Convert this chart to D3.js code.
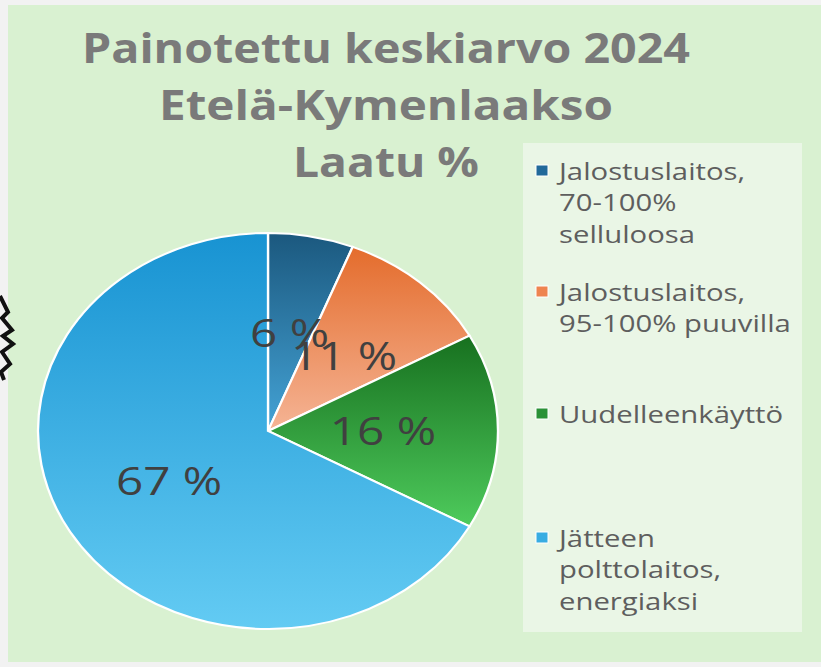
<!DOCTYPE html>
<html lang="fi">
<head>
<meta charset="UTF-8">
<title>Painotettu keskiarvo 2024</title>
<script src="https://cdn.jsdelivr.net/npm/d3@7"></script>
<style>
  html, body { margin: 0; padding: 0; background: #f2f2f2; }
  svg { display: block; }
</style>
</head>
<body>
<div id="chart"></div>
<script>
// data
const categories = [
  "Jalostuslaitos, 70-100% selluloosa",
  "Jalostuslaitos, 95-100% puuvilla",
  "Uudelleenkäyttö",
  "Jätteen polttolaitos, energiaksi"
];
const legendLines = [
  ["Jalostuslaitos,", "70-100%", "selluloosa"],
  ["Jalostuslaitos,", "95-100% puuvilla"],
  ["Uudelleenkäyttö"],
  ["Jätteen", "polttolaitos,", "energiaksi"]
];
const values = [6, 11, 16, 67];
const titleLines = ["Painotettu keskiarvo 2024", "Etelä-Kymenlaakso", "Laatu %"];

// colours: [top, bottom] of each slice gradient, and the legend key colour
const gradStops = [
  ["#1b587e", "#44a3d6"],
  ["#e46c2c", "#f5b495"],
  ["#17701f", "#4ecb5c"],
  ["#1893d2", "#63cbf3"]
];
const keyColors = ["#21699a", "#ee8450", "#2a9137", "#38ace2"];

const W = 821, H = 667;
const svg = d3.select("#chart").append("svg")
  .attr("width", W).attr("height", H);

const defs = svg.append("defs");
gradStops.forEach((g, i) => {
  const lg = defs.append("linearGradient")
    .attr("id", "grad" + i)
    .attr("x1", 0).attr("y1", 0).attr("x2", 0).attr("y2", 1);
  lg.append("stop").attr("offset", "0%").attr("stop-color", g[0]);
  lg.append("stop").attr("offset", "100%").attr("stop-color", g[1]);
});

// chart area
svg.append("rect")
  .attr("x", 8).attr("y", 5)
  .attr("width", W - 8).attr("height", 657)
  .attr("fill", "#d9f1d1");

// bit of a drawing sticking in from the left edge
svg.append("path")
  .attr("d", "M0,296 L8,312 L2,318 L12,330 L3,336 L13,344 L2,352 L10,364 L1,372 L4,380")
  .attr("fill", "none")
  .attr("stroke", "#111")
  .attr("stroke-width", 4)
  .attr("stroke-linejoin", "miter");

// title
const title = svg.append("g")
  .attr("font-family", "'Open Sans', sans-serif")
  .attr("font-weight", "bold")
  .attr("font-size", 41)
  .attr("fill", "#7a7a7a")
  .attr("text-anchor", "middle");
const titleWidths = [608, 454, 186];
titleLines.forEach((t, i) => {
  title.append("text")
    .attr("x", 386)
    .attr("y", 63 + i * 57)
    .attr("textLength", titleWidths[i])
    .attr("lengthAdjust", "spacingAndGlyphs")
    .text(t);
});

// pie (the picture is stretched sideways, so the pie is too)
const cx = 268, cy = 431, ry = 198, rx = 230;
const pieG = svg.append("g")
  .attr("transform", `translate(${cx},${cy}) scale(${rx / ry},1)`);

const pie = d3.pie().sort(null).value(d => d)(values);
const arc = d3.arc().innerRadius(0).outerRadius(ry);
const labelArc = d3.arc().innerRadius(ry * 0.5).outerRadius(ry * 0.5);

pieG.selectAll("path.slice")
  .data(pie)
  .join("path")
  .attr("class", "slice")
  .attr("d", arc)
  .attr("fill", (d, i) => `url(#grad${i})`)
  .attr("stroke", "#ffffff")
  .attr("stroke-width", 2);

pieG.selectAll("text.lbl")
  .data(pie)
  .join("text")
  .attr("class", "lbl")
  .attr("transform", d => `translate(${labelArc.centroid(d)}) scale(1.08,1)`)
  .attr("text-anchor", "middle")
  .attr("dy", "0.36em")
  .attr("font-family", "'Open Sans', sans-serif")
  .attr("font-size", 38)
  .attr("fill", "#404040")
  .text(d => d.data + " %");

// legend
svg.append("rect")
  .attr("x", 523).attr("y", 143)
  .attr("width", 279).attr("height", 489)
  .attr("fill", "#eaf6e6");

const legY = [180, 301, 423, 547];
const lineH = 31.5;
const leg = svg.append("g");
categories.forEach((c, i) => {
  const item = leg.append("g").attr("transform", `translate(0,${legY[i]})`);
  item.append("title").text(c);
  item.append("rect")
    .attr("x", 536).attr("y", -15)
    .attr("width", 12).attr("height", 11)
    .attr("fill", keyColors[i])
    .attr("stroke", "#ffffff")
    .attr("stroke-width", 1);
  const tg = item.append("g")
    .attr("class", "legtext")
    .attr("font-family", "'Open Sans', sans-serif")
    .attr("font-size", 23)
    .attr("fill", "#5e5e5e");
  legendLines[i].forEach((l, j) => {
    tg.append("text").attr("x", 0).attr("y", j * lineH).text(l);
  });
});

// stretch legend text sideways to the picture's width
const probe = leg.selectAll(".legtext text").filter(function () {
  return this.textContent === "95-100% puuvilla";
}).node();
const sx = probe ? 232 / probe.getComputedTextLength() : 1;
leg.selectAll(".legtext").attr("transform", `translate(559,0) scale(${sx},1)`);
</script>
</body>
</html>
